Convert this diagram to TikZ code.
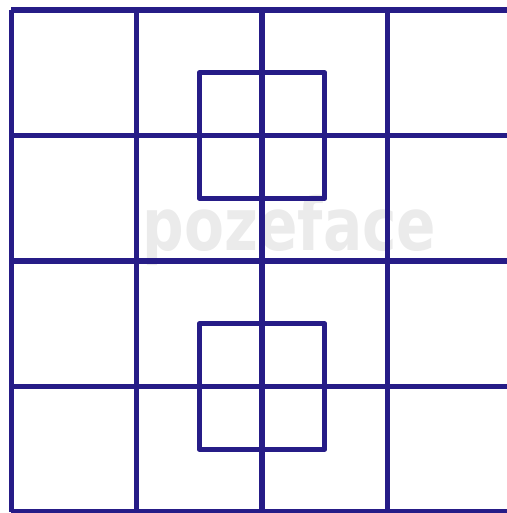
\documentclass[tikz,border=0pt]{standalone}
\usepackage{fontspec}
\newfontfamily\markfont{DejaVu Sans}
\usepackage{tikz}
\usetikzlibrary{positioning}
\definecolor{gridblue}{RGB}{38,28,135}
\tikzset{
  gridline/.style={gridblue, line width=2.3pt},
  innersq/.style={gridblue, line width=2.3pt, line join=round},
}

\begin{document}
\begin{tikzpicture}[scale=2]
      % Frame of the image
      \useasboundingbox (-0.088, -0.008) rectangle (3.952, 4.08);
      % Watermark
      \node[text=black!8, font=\markfont\bfseries\fontsize{33}{33}\selectfont, xscale=0.8] (mark) at (2.22, 2.24) {pozeface};
      % Outer grid 4x4
      \foreach \i in {0,...,4} {
        \draw[gridline] (\i, 0) -- (\i, 4);
        \draw[gridline] (0, \i) -- (4, \i);
      }
      % Upper small square
      \draw[innersq] (1.5, 2.5) rectangle (2.5, 3.5);
      % Lower small square
      \draw[innersq] (1.5, 0.5) rectangle (2.5, 1.5);
    \end{tikzpicture}
\end{document}
